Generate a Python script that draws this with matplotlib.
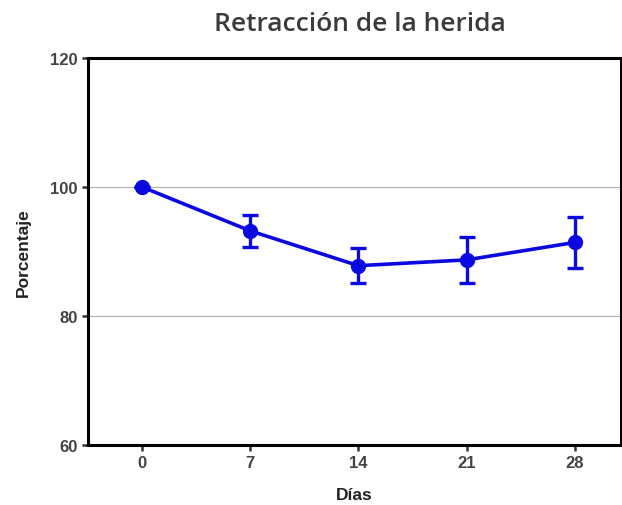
import matplotlib
matplotlib.use("Agg")
import matplotlib.pyplot as plt

days = [0, 7, 14, 21, 28]
percent = [100.0, 93.2, 87.8, 88.7, 91.4]
err = [0.0, 2.5, 2.7, 3.6, 4.0]
yticks = [60, 80, 100, 120]

fig = plt.figure(figsize=(6.22, 5.06), dpi=100)
ax = fig.add_axes([0.1415, 0.1186, 0.857, 0.7648])

ax.errorbar(days, percent, yerr=err, color='#0a0ae0', lw=2.6, marker='o',
            markersize=10, capsize=6, capthick=2.4, elinewidth=2.4, zorder=3)

ax.set_xlim(-3.5, 31.0)
ax.set_ylim(60, 120)
ax.set_xticks(days)
ax.set_yticks(yticks)
for g in [80, 100]:
    ax.axhline(g, color='#b0b0b0', lw=0.8, zorder=1)

for s in ax.spines.values():
    s.set_linewidth(2.2)
    s.set_color('black')

ax.tick_params(axis='both', direction='out', length=4, width=1.8, color='#333333',
               labelsize=12, labelcolor='#444444')
for lab in ax.get_xticklabels() + ax.get_yticklabels():
    lab.set_fontfamily('Liberation Sans')
    lab.set_fontweight('bold')

ax.set_xlabel('Días', fontsize=12.5, fontweight='bold', family='Liberation Sans',
              color='#222222', labelpad=12)
ax.set_ylabel('Porcentaje', fontsize=12.5, fontweight='bold', family='Liberation Sans',
              color='#222222', labelpad=14)
fig.text(0.579, 0.952, 'Retracción de la herida', ha='center', va='center',
         fontsize=19, fontweight='semibold', family='Open Sans', color='#3a3a3a')

fig.savefig('out.png', dpi=100)
